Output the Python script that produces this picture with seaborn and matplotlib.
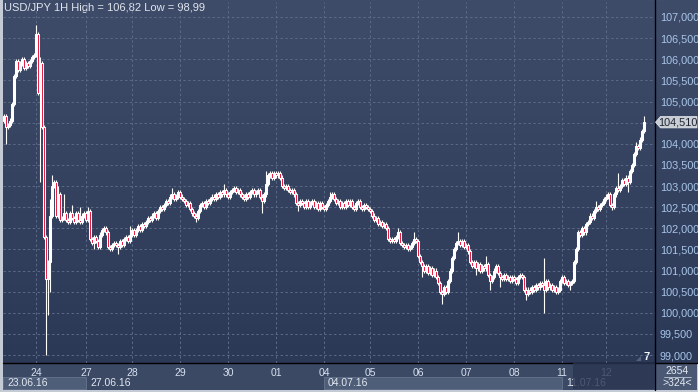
import numpy as np
import pandas as pd
import matplotlib
matplotlib.use("Agg")
import matplotlib.pyplot as plt
import seaborn as sns
from matplotlib.patches import Rectangle, Polygon
from matplotlib.colors import LinearSegmentedColormap
from matplotlib.transforms import blended_transform_factory

# ---------------- data ----------------
title = "USD/JPY 1H High = 106,82 Low = 98,99"
first_open = 104.55
closes = [
    104.65, 104.40, 104.45, 104.55, 104.95, 105.60, 105.95, 105.75, 105.90, 106.00,
    105.80, 105.90, 105.85, 105.95, 106.05, 106.10, 106.60, 105.20, 105.90, 104.40,
    101.80, 100.80, 101.20, 102.30, 103.00, 103.10, 102.30, 102.80, 102.20, 102.25,
    102.35, 102.20, 102.15, 102.35, 102.25, 102.15, 102.35, 102.20, 102.15, 102.30,
    102.35, 102.20, 102.40, 101.75, 101.65, 101.80, 101.70, 101.55, 101.85, 101.95,
    102.00, 101.90, 101.55, 101.50, 101.60, 101.65, 101.60, 101.55, 101.70, 101.60,
    101.75, 101.80, 101.70, 101.85, 101.95, 101.85, 101.95, 102.05, 101.95, 102.10,
    102.05, 102.15, 102.25, 102.20, 102.30, 102.35, 102.25, 102.40, 102.50, 102.45,
    102.55, 102.65, 102.60, 102.75, 102.80, 102.70, 102.75, 102.85, 102.75, 102.70,
    102.65, 102.55, 102.60, 102.45, 102.35, 102.30, 102.25, 102.40, 102.55, 102.60,
    102.50, 102.65, 102.60, 102.70, 102.75, 102.70, 102.80, 102.75, 102.85, 102.80,
    102.90, 102.80, 102.75, 102.85, 102.90, 102.95, 102.85, 102.90, 102.80, 102.75,
    102.70, 102.80, 102.75, 102.85, 102.90, 102.80, 102.85, 102.90, 102.75, 102.65,
    102.80, 103.05, 103.25, 103.30, 103.20, 103.30, 103.25, 103.30, 103.20, 103.00,
    102.95, 103.00, 102.90, 102.85, 102.90, 102.80, 102.60, 102.55, 102.65, 102.60,
    102.50, 102.65, 102.50, 102.60, 102.65, 102.50, 102.60, 102.45, 102.60, 102.50,
    102.45, 102.55, 102.65, 102.75, 102.80, 102.70, 102.60, 102.65, 102.50, 102.60,
    102.50, 102.65, 102.55, 102.65, 102.50, 102.45, 102.60, 102.65, 102.50, 102.45,
    102.55, 102.50, 102.45, 102.40, 102.30, 102.20, 102.25, 102.10, 102.15, 102.05,
    102.10, 102.00, 101.75, 101.70, 101.75, 101.70, 101.80, 101.90, 101.65, 101.60,
    101.55, 101.60, 101.50, 101.55, 101.65, 101.75, 101.70, 101.35, 101.20, 101.10,
    101.00, 101.10, 100.95, 101.05, 100.90, 101.00, 100.85, 100.70, 100.50, 100.45,
    100.60, 100.50, 100.75, 101.00, 101.30, 101.50, 101.65, 101.70, 101.60, 101.70,
    101.55, 101.60, 101.45, 101.20, 101.10, 101.20, 101.05, 101.15, 101.00, 101.10,
    101.05, 101.15, 100.90, 100.75, 100.85, 101.00, 101.10, 100.95, 100.85, 100.80,
    100.90, 100.80, 100.85, 100.75, 100.85, 100.80, 100.70, 100.85, 100.90, 100.85,
    100.55, 100.45, 100.55, 100.50, 100.60, 100.55, 100.65, 100.60, 100.70, 100.65,
    100.55, 100.75, 100.60, 100.65, 100.55, 100.60, 100.50, 100.55, 100.75, 100.85,
    100.70, 100.75, 100.65, 100.70, 100.75, 101.20, 101.50, 101.90, 101.85, 102.00,
    101.90, 102.10, 102.15, 102.30, 102.25, 102.40, 102.50, 102.45, 102.55, 102.60,
    102.70, 102.75, 102.80, 102.55, 102.50, 102.80, 102.95, 102.90, 103.00, 103.15,
    103.05, 103.20, 103.10, 103.35, 103.50, 103.75, 103.95, 103.90, 104.10, 104.30, 104.51,
]
# notable wick extremes (bar index -> price)
high_wicks = {16: 106.82, 18: 106.05, 23: 102.70, 24: 103.25, 27: 103.00, 30: 102.80,
              34: 102.55, 38: 102.50, 42: 102.50, 63: 102.05, 84: 102.95, 110: 103.05,
              131: 103.35, 163: 102.85, 197: 102.00, 205: 101.90, 227: 101.90,
              241: 101.35, 270: 101.30, 296: 102.65, 307: 103.30, 316: 104.05, 320: 104.66}
low_wicks = {1: 104.00, 18: 103.10, 21: 98.99, 22: 99.95, 23: 100.50, 45: 101.50,
             57: 101.40, 96: 102.15, 129: 102.35, 147: 102.40, 176: 102.40, 209: 100.85,
             219: 100.20, 236: 100.90, 243: 100.55, 248: 100.60, 261: 100.30,
             270: 99.99, 283: 100.55, 304: 102.43, 312: 102.85}

day_labels = ["24", "27", "28", "29", "30", "01", "04", "05", "06", "07", "08", "11", "12"]
day_start_bar = [16, 41, 64, 88, 112, 136, 160, 183, 207, 231, 255, 279, 301]
week_labels = ["23.06.16", "27.06.16", "04.07.16", "11.07.16"]
week_start_bar = [-0.5, 41, 160, 279]
price_ticks = [99.0, 99.5, 100.0, 100.5, 101.0, 101.5, 102.0, 102.5, 103.0,
               103.5, 104.0, 104.5, 105.0, 105.5, 106.0, 106.5, 107.0]
last_price = 104.51
bars_total = "2654"
bars_visible = ">324<"
zoom_level = "7"

# ---------------- build OHLC table ----------------
opens = [first_open] + closes[:-1]
df = pd.DataFrame({"open": opens, "close": closes})
df["bar"] = np.arange(len(df))
wick_pad = 0.05
df["high"] = df[["open", "close"]].max(axis=1) + wick_pad
df["low"] = df[["open", "close"]].min(axis=1) - wick_pad
for k, v in high_wicks.items():
    df.loc[k, "high"] = v
for k, v in low_wicks.items():
    df.loc[k, "low"] = v
df["bottom"] = df[["open", "close"]].min(axis=1)
df["height"] = (df["close"] - df["open"]).abs()
df["bear"] = df["close"] < df["open"]

# ---------------- style ----------------
sns.set_theme(style="dark")
plt.rcParams["font.family"] = ["Liberation Sans", "DejaVu Sans"]

W, H = 698, 392
fig = plt.figure(figsize=(W / 100, H / 100), dpi=100, facecolor="#c4cbd4")

# background canvas in pixel coordinates
bg = fig.add_axes([0, 0, 1, 1])
bg.axis("off")
cmap = LinearSegmentedColormap.from_list("bgc", ["#3f4c69", "#2b3856"])
grad = np.linspace(0, 1, 256).reshape(-1, 1)
bg.imshow(grad, extent=[2.5, 697, 363, 0], cmap=cmap, aspect="auto", zorder=0,
          interpolation="bilinear")
bg.set_xlim(0, W)
bg.set_ylim(H, 0)
bg.add_patch(Rectangle((2.5, 363), 694.5, 26.5, facecolor="#3c4965", edgecolor="none", zorder=1))
bg.add_patch(Rectangle((655, 363), 42, 26.5, facecolor="#4a5874", edgecolor="none", zorder=1))

# main price axes
ax = fig.add_axes([3 / W, 29 / H, 652 / W, 361 / H])
ax.patch.set_alpha(0)
ax.set_xlim(-0.5, 325.5)
ax.set_ylim(98.811, 107.355)
for s in ax.spines.values():
    s.set_visible(False)

ax.set_axisbelow(True)
ax.grid(True, color="#5a6a87", lw=0.7, ls=(0, (2.5, 2.5)))

# candles
ax.vlines(df["bar"], df["low"], df["high"], color="white", lw=0.8, zorder=2)
face = np.where(df["bear"], "#e5163c", "white")
ax.bar(df["bar"], df["height"], bottom=df["bottom"], width=1.4, color=face,
       edgecolor="white", linewidth=0.75, zorder=3)

# x axis: day labels
ax.set_xticks(day_start_bar, day_labels)
ax.tick_params(axis="x", length=0, pad=3.5, labelsize=7.5, labelcolor="#d5e0ee")

# y axis on the right
ax.yaxis.tick_right()
ylabels = ["" if abs(v - round(last_price * 2) / 2) < 1e-9 else f"{v:.3f}".replace(".", ",")
           for v in price_ticks]
ax.set_yticks(price_ticks, ylabels)
ax.tick_params(axis="y", length=0, pad=3.5, labelsize=7.8, labelcolor="#a8c6ea")

# week boxes and labels
trans = blended_transform_factory(ax.transData, bg.transData)
week_end_bar = week_start_bar[1:] + [325.5]
for j, (lab, s, e) in enumerate(zip(week_labels, week_start_bar, week_end_bar)):
    if j % 2 == 0:
        bg.add_patch(Rectangle((s, 376.5), e - s, 12.5, transform=trans,
                               facecolor="#4e5d78", edgecolor="#66748d", lw=0.6, zorder=2))
    bg.text(s + 2, 383, lab, transform=trans, ha="left", va="center",
            fontsize=7.5, color="#e2e8f0", zorder=3)

# separator lines
bg.plot([2.5, 697], [363, 363], color="black", lw=1.0, zorder=4)
bg.plot([655, 655], [0, 389.5], color="black", lw=1.0, zorder=4)

# title
bg.text(4, 8, title, ha="left", va="center", fontsize=8, color="#dfe5ee", zorder=5)

# corner counters
bg.text(677, 370.5, bars_total, ha="center", va="center", fontsize=7.5, color="#e4eaf2", zorder=5)
bg.plot([664, 691], [377, 377], color="#c0c9d6", lw=0.6, zorder=5)
bg.text(677, 383.5, bars_visible, ha="center", va="center", fontsize=7.5, color="#e4eaf2", zorder=5)

# zoom indicator
bg.add_patch(Polygon([(636, 361), (641, 361), (641, 356)], closed=True,
                     facecolor="#55627d", edgecolor="none", zorder=5))
bg.text(647, 357, zoom_level, ha="center", va="center", fontsize=8, fontweight="bold",
        color="#f2f5fa", zorder=5)

# current price tag
ptrans = blended_transform_factory(bg.transData, ax.transData)
half = 0.135
tag = Polygon([(655.5, last_price), (660.5, last_price + half), (697, last_price + half),
               (697, last_price - half), (660.5, last_price - half)], closed=True,
              transform=ptrans, facecolor="#c9cdd4", edgecolor="#e8ebef", lw=0.5, zorder=6)
ax.add_patch(tag)
tag.set_clip_on(False)
t = ax.text(678, last_price, f"{last_price:.3f}".replace(".", ","), transform=ptrans,
            ha="center", va="center", fontsize=7.8, color="#1d2333", zorder=7)
t.set_clip_on(False)

# dark overlay on the bottom-right part of the time axis
fig.add_artist(Rectangle((573 / W, 3 / H), 82 / W, 26 / H, transform=fig.transFigure,
                         facecolor="#2a3552", edgecolor="none", alpha=0.8, zorder=10))

fig.savefig("out.png", dpi=100, facecolor=fig.get_facecolor())
